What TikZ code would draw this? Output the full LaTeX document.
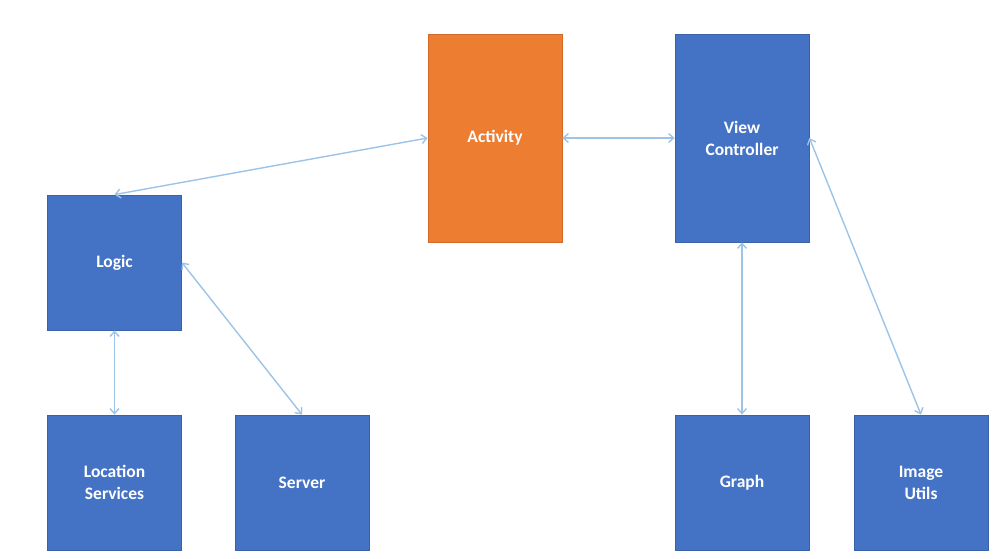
\documentclass[tikz,border=0pt]{standalone}
\usepackage{fontspec}
\setmainfont{Carlito}
\usetikzlibrary{arrows.meta}
\definecolor{boxblue}{HTML}{4472C4}
\definecolor{boxblueline}{HTML}{3A62A8}
\definecolor{boxorange}{HTML}{ED7D31}
\definecolor{boxorangeline}{HTML}{D2692A}
\definecolor{linkblue}{HTML}{9DC3E6}
\begin{document}
\begin{tikzpicture}[x=1pt,y=-1pt,
  blockbox/.style={draw=boxblueline,fill=boxblue,line width=0.8pt,minimum width=134pt,minimum height=135pt,inner sep=0pt,
    text=white,font=\fontsize{17.5}{22}\selectfont\bfseries,align=center},
  tallbox/.style={blockbox,minimum height=208pt},
  orangebox/.style={tallbox,draw=boxorangeline,fill=boxorange},
  link/.style={draw=linkblue,line width=1.4pt,{Straight Barb[length=5pt,width=9pt]}-{Straight Barb[length=5pt,width=9pt]}}]
\useasboundingbox (0,0) rectangle (994,558);
\node[orangebox] (act) at (495,138) {Activity};
\node[tallbox] (vc) at (742,138) {View\\Controller};
\node[blockbox] (logic) at (114.5,262.5) {Logic};
\node[blockbox] (loc) at (114.5,482.5) {Location\\Services};
\node[blockbox] (srv) at (302,482.5) {Server};
\node[blockbox] (graph) at (742,482.5) {Graph};
\node[blockbox] (img) at (921,482.5) {Image\\Utils};
\draw[link] (act.west) -- (logic.north);
\draw[link] (act.east) -- (vc.west);
\draw[link] (logic.south) -- (loc.north);
\draw[link] (logic.east) -- (srv.north);
\draw[link] (vc.south) -- (graph.north);
\draw[link] (vc.east) -- (img.north);
\end{tikzpicture}
\end{document}
